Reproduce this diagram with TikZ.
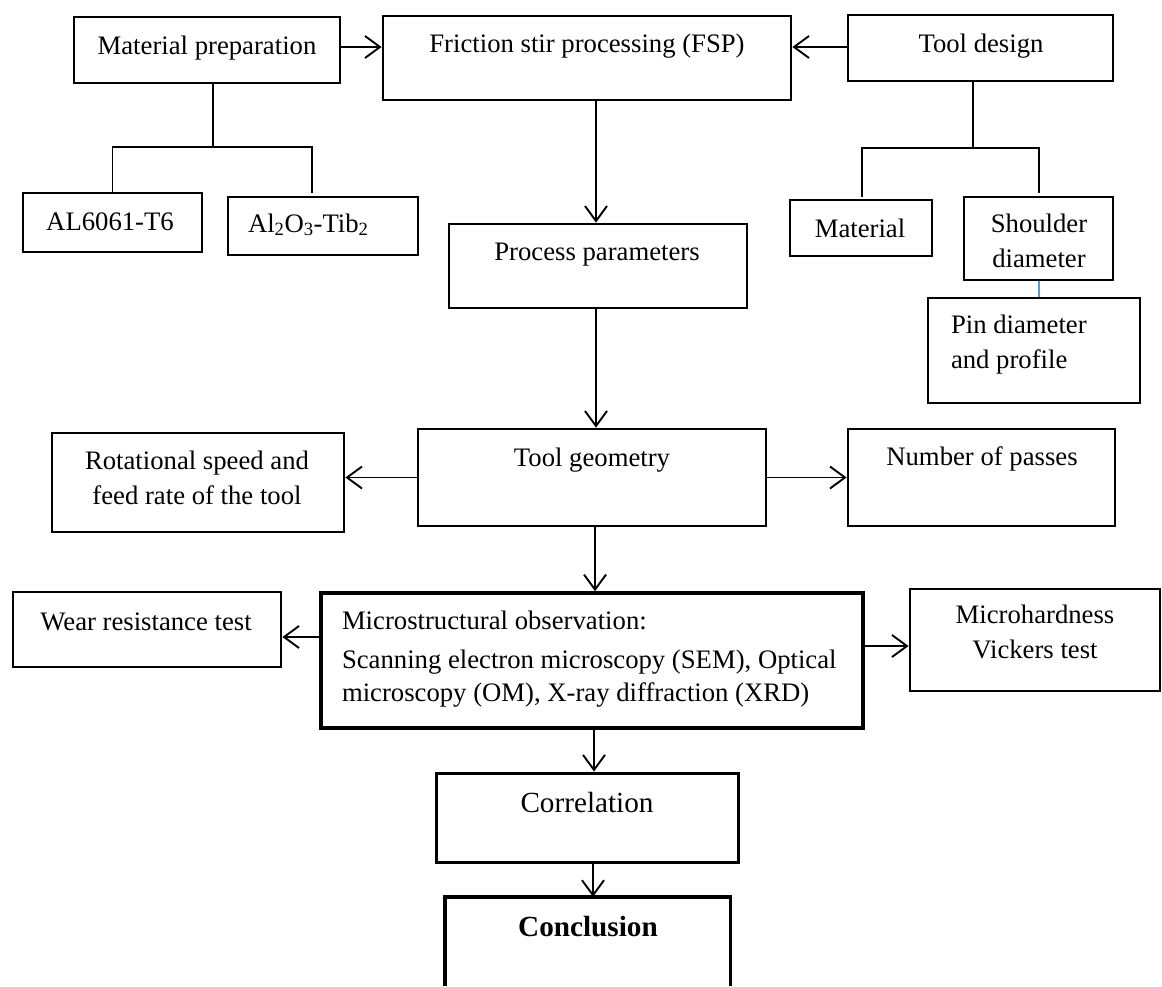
\documentclass[tikz,border=0pt]{standalone}
\usepackage{fontspec}
\setmainfont{Liberation Serif}
\usetikzlibrary{arrows.meta}
\definecolor{linkblue}{RGB}{91,155,213}
\tikzset{
  bx/.style={draw=black, line width=2.8pt, rectangle, inner sep=0pt},
  thickbx/.style={bx, line width=3.6pt},
  conn/.style={draw=black, line width=1.9pt},
  arr/.style={conn, -{Straight Barb[length=15pt,width=22pt,line width=1.9pt]}},
  txt/.style={inner sep=0pt, outer sep=0pt, font=\fontsize{26.7pt}{32pt}\selectfont},
  bigtxt/.style={inner sep=0pt, outer sep=0pt, font=\fontsize{29.2pt}{34pt}\selectfont},
}
\begin{document}
\begin{tikzpicture}[x=1pt,y=-1pt]
\useasboundingbox (0,0) rectangle (1162,986);
\fill[white] (0,0) rectangle (1162,986);

% boxes
\node[bx, minimum width=266pt, minimum height=66pt] (mp) at (207,50) {};
\node[bx, minimum width=408pt, minimum height=84pt] (fsp) at (587,58) {};
\node[bx, minimum width=265pt, minimum height=66pt] (td) at (980.5,48) {};
\node[bx, minimum width=179pt, minimum height=59pt] (al) at (112.5,222.5) {};
\node[bx, minimum width=190pt, minimum height=58pt] (alo) at (323,226) {};
\node[bx, minimum width=142pt, minimum height=56pt] (mat) at (861,228) {};
\node[bx, minimum width=149pt, minimum height=83pt] (sh) at (1038.5,238.5) {};
\node[bx, minimum width=212pt, minimum height=105pt] (pin) at (1034,350.5) {};
\node[bx, minimum width=298pt, minimum height=84pt] (pp) at (598,266) {};
\node[bx, minimum width=348pt, minimum height=97pt] (tg) at (592,477.5) {};
\node[bx, minimum width=292pt, minimum height=99pt] (rot) at (198,482.5) {};
\node[bx, minimum width=267pt, minimum height=97pt] (nop) at (981.5,477.5) {};
\node[thickbx, minimum width=542pt, minimum height=135pt] (mic) at (592,660.5) {};
\node[bx, minimum width=268pt, minimum height=75pt] (wear) at (147,629.5) {};
\node[bx, minimum width=250pt, minimum height=102pt] (mh) at (1035,640) {};
\node[bx, line width=3pt, minimum width=302pt, minimum height=89pt] (cor) at (587,817.5) {};
\node[inner sep=0pt, minimum width=285pt, minimum height=89pt] (con) at (587.5,941.5) {};
\draw[line width=3.4pt] (con.south west) -- (con.north west) -- (con.north east) -- (con.south east);

% texts
\node[txt, anchor=base] (mpt) at (207,54) {Material preparation};
\node[txt, anchor=base] (fspt) at (587,52) {Friction stir processing (FSP)};
\node[txt, anchor=base] (tdt) at (981,52) {Tool design};
\node[txt, anchor=base] (alt) at (110,230) {AL6061-T6};
\node[txt, anchor=base west] (alot) at (248,232) {Al\textsubscript{2}O\textsubscript{3}-Tib\textsubscript{2}};
\node[txt, anchor=base] (matt) at (860,237) {Material};
\node[txt, anchor=base] (sht1) at (1039,232) {Shoulder};
\node[txt, anchor=base] (sht2) at (1039,267) {diameter};
\node[txt, anchor=base west] (pint1) at (951,333) {Pin diameter};
\node[txt, anchor=base west] (pint2) at (951,368) {and profile};
\node[txt, anchor=base] (ppt) at (597,260) {Process parameters};
\node[txt, anchor=base] (tgt) at (592,466) {Tool geometry};
\node[txt, anchor=base] (rott1) at (197,469) {Rotational speed and};
\node[txt, anchor=base] (rott2) at (197,504) {feed rate of the tool};
\node[txt, anchor=base] (nopt) at (982,465) {Number of passes};
\node[txt, anchor=base west] (mict1) at (342,629) {Microstructural observation:};
\node[txt, anchor=base west] (mict2) at (342,668) {Scanning electron microscopy (SEM), Optical};
\node[txt, anchor=base west] (mict3) at (342,701) {microscopy (OM), X-ray diffraction (XRD)};
\node[txt, anchor=base] (weart) at (146,630) {Wear resistance test};
\node[txt, anchor=base] (mht1) at (1035,623) {Microhardness};
\node[txt, anchor=base] (mht2) at (1035,658) {Vickers test};
\node[bigtxt, anchor=base] (cort) at (587,812) {Correlation};
\node[bigtxt, anchor=base] (cont) at (588,936) {\bfseries Conclusion};

% helper coordinates
\coordinate (top) at (0,47);
\coordinate (sp) at (596,0);
\coordinate (mpj) at (213,147);
\coordinate (aloend) at (312,193);
\coordinate (tdj) at (973,148);
\coordinate (matend) at (862,197);
\coordinate (shend) at (1039,193);
\coordinate (lwear) at (0,637);
\coordinate (lmh) at (0,646);

% connectors top
\draw[arr] (mp.east |- top) -- (fsp.west |- top);
\draw[arr] (td.west |- top) -- (fsp.east |- top);
\draw[conn] (mp.south -| mpj) -- (mpj);
\draw[conn] (al.north) |- (aloend |- mpj) -- (aloend);
\draw[conn] (td.south -| tdj) -- (tdj);
\draw[conn] (matend) |- (shend |- tdj) -- (shend);
\draw[draw=linkblue, line width=1.6pt] (sh.south -| shend) -- (pin.north -| shend);

% spine
\draw[arr] (fsp.south -| sp) -- (pp.north -| sp);
\draw[arr] (pp.south -| sp) -- (tg.north -| sp);
\draw[arr] (tg.west) -- (rot.east |- tg.west);
\draw[arr] (tg.east) -- (nop.west |- tg.east);
\draw[arr] ([xshift=-1pt]tg.south -| sp) -- ([xshift=-1pt]mic.north -| sp);
\draw[arr] (mic.west |- lwear) -- (wear.east |- lwear);
\draw[arr] (mic.east |- lmh) -- (mh.west |- lmh);
\draw[arr] ([xshift=-2pt]mic.south -| sp) -- ([xshift=-2pt]cor.north -| sp);
\draw[arr] ([xshift=-3pt]cor.south -| sp) -- ([xshift=-3pt]con.north -| sp);
\end{tikzpicture}
\end{document}
